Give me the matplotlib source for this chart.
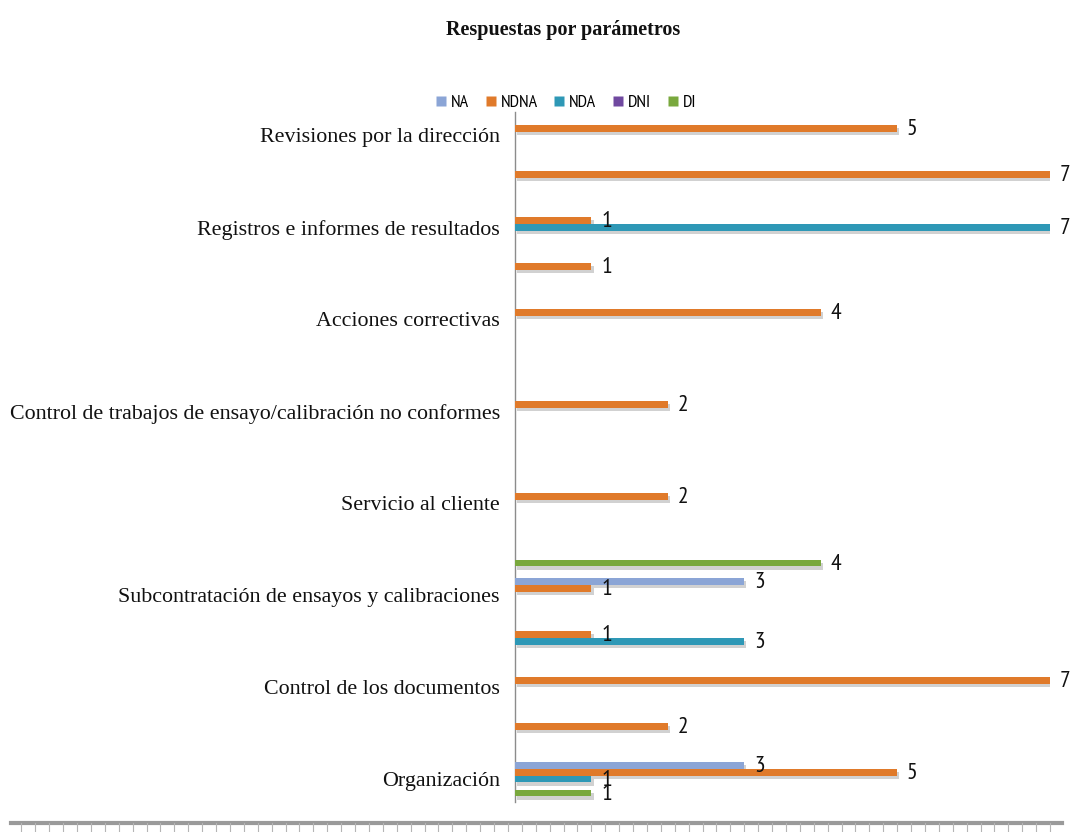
import matplotlib
matplotlib.use("Agg")
import matplotlib.pyplot as plt
import matplotlib.patheffects as pe
from matplotlib.lines import Line2D
import numpy as np

# Management requirements, listed from bottom to top of the chart
categories = [
    "Organización",
    "Sistema de gestión",
    "Control de los documentos",
    "Revisión de los pedidos, ofertas y contratos",
    "Subcontratación de ensayos y calibraciones",
    "Compras de servicios y suministros",
    "Servicio al cliente",
    "Quejas",
    "Control de trabajos de ensayo/calibración no conformes",
    "Mejora",
    "Acciones correctivas",
    "Acciones preventivas",
    "Registros e informes de resultados",
    "Auditorías internas",
    "Revisiones por la dirección",
]

series_names = ["NA", "NDNA", "NDA", "DNI", "DI"]
na   = [3, 0, 0, 0, 3, 0, 0, 0, 0, 0, 0, 0, 0, 0, 0]
ndna = [5, 2, 7, 1, 1, 0, 2, 0, 2, 0, 4, 1, 1, 7, 5]
nda  = [1, 0, 0, 3, 0, 0, 0, 0, 0, 0, 0, 0, 7, 0, 0]
dni  = [0, 0, 0, 0, 0, 0, 0, 0, 0, 0, 0, 0, 0, 0, 0]
di   = [1, 0, 0, 0, 0, 4, 0, 0, 0, 0, 0, 0, 0, 0, 0]
series_values = [na, ndna, nda, dni, di]

colors = ["#8BA5D6", "#E07A2A", "#2E98B6", "#7049A0", "#79A83D"]

title_font = "Liberation Serif"
label_font = "Liberation Serif"
number_font = "PT Sans Narrow"

fig = plt.figure(figsize=(10.73, 8.32), dpi=100)
ax = fig.add_axes([0.480, 0.036, 0.4986, 0.8293])

y = np.arange(len(categories))
step = 0.152
bar_h = 0.15
offsets = [2 * step, step, 0.0, -step, -2 * step]

shadow = [pe.SimplePatchShadow(offset=(1.5, -2.5), shadow_rgbFace="#9a9a9a", alpha=0.45),
          pe.Normal()]

for name, vals, col, off in zip(series_names, series_values, colors, offsets):
    vals = np.asarray(vals, dtype=float)
    bars = ax.barh(y + off, vals, height=bar_h, color=col, label=name,
                   edgecolor="none", zorder=3)
    for b, v in zip(bars, vals):
        b.set_path_effects(shadow)
        if v > 0:
            ax.annotate(f"{v:g}", xy=(v, b.get_y() + b.get_height() / 2),
                        xytext=(7, -1), textcoords="offset points",
                        ha="left", va="center", fontsize=17,
                        family=number_font, color="#111111", zorder=4)

ax.set_xlim(0, 7)
ax.set_ylim(-0.5, len(categories) - 0.5)
ax.set_yticks(y)
ax.set_yticklabels([c if i % 2 == 0 else "" for i, c in enumerate(categories)],
                   family=label_font, fontsize=15.8, color="#111111")
ax.tick_params(axis="y", length=0, pad=11)
ax.xaxis.set_visible(False)
for side in ("top", "right", "bottom"):
    ax.spines[side].set_visible(False)
ax.spines["left"].set_color("#8c8c8c")
ax.spines["left"].set_linewidth(1.0)
ax.set_facecolor("none")

fig.text(563 / 1073, 1 - 30 / 832, "Respuestas por parámetros", ha="center", va="center",
         family=title_font, fontweight="bold", fontsize=14.5, color="#111111")

handles = [Line2D([], [], marker="s", linestyle="none", markersize=6.5,
                  markerfacecolor=c, markeredgecolor="none") for c in colors]
fig.legend(handles, series_names, loc="center", ncol=5,
           bbox_to_anchor=(565 / 1073, 1 - 103 / 832), frameon=False,
           prop={"family": number_font, "size": 13},
           handlelength=0.8, handletextpad=0.15, columnspacing=0.8,
           borderaxespad=0, borderpad=0)

# sheet ruler along the bottom edge
ruler_y = 1 - 823 / 832
fig.add_artist(Line2D([0.01, 0.99], [ruler_y, ruler_y], transform=fig.transFigure,
                      color="#9a9a9a", linewidth=3))
for xt in np.arange(0.02, 0.985, 13.9 / 1073):
    fig.add_artist(Line2D([xt, xt], [ruler_y, 0], transform=fig.transFigure,
                          color="#b5b5b5", linewidth=0.8))

fig.savefig("out.png", dpi=100)
